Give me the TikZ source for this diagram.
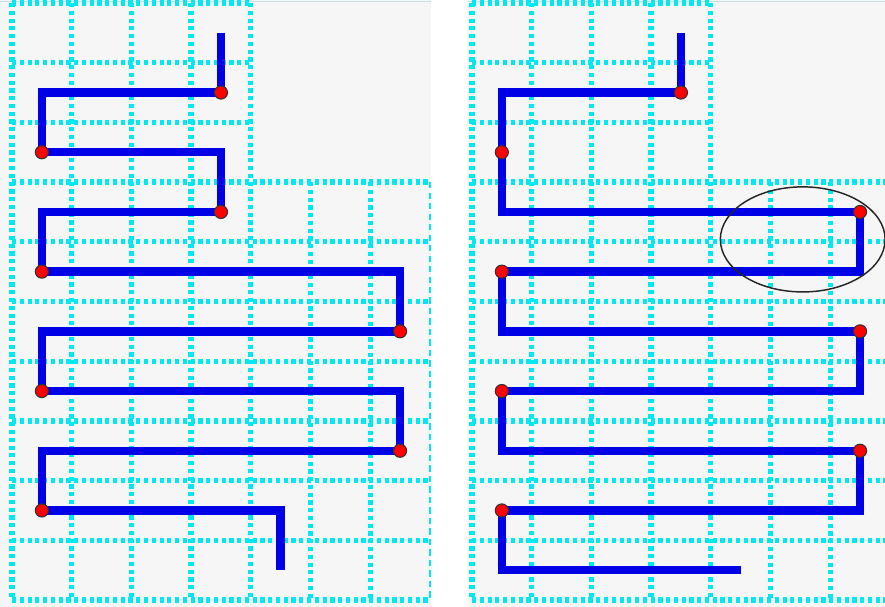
\documentclass[tikz,border=0pt]{standalone}
\usepackage{tikz}
\usetikzlibrary{positioning}
\definecolor{GridCyan}{RGB}{0,232,240}
\definecolor{PathBlue}{RGB}{0,0,230}
\definecolor{PanelGray}{RGB}{246,246,247}
\definecolor{EdgeBlue}{RGB}{200,222,230}

\begin{document}
\begin{tikzpicture}[x=1cm, y=-1cm,
    gridline/.style={GridCyan, line width=2.5pt, dash pattern=on 2pt off 1.7pt},
    edgeline/.style={GridCyan, line width=0.8pt, dash pattern=on 3pt off 2pt},
    snake/.style={PathBlue, line width=4pt, line join=miter},
    turn/.style={circle, draw=black!80, fill=red, line width=0.5pt, inner sep=0pt, minimum size=2.2mm}]
  \useasboundingbox (-0.201,-0.05) rectangle (14.623,10.117);
  % panels
  \fill[PanelGray] (-0.201,-0.05) rectangle (7.02,10.117);
  \fill[PanelGray] (7.64,-0.05) rectangle (14.623,10.117);
  \draw[EdgeBlue, line width=0.6pt] (-0.201,-0.02) -- (7.02,-0.02);
  \draw[EdgeBlue, line width=0.6pt] (7.64,-0.02) -- (14.623,-0.02);
  % left panel
  \begin{scope}
    \foreach \i in {0,...,4} \draw[gridline] (\i,0) -- (\i,10);
    \foreach \i in {5,6} \draw[gridline] (\i,3) -- (\i,10);
    \foreach \j in {0,1,2} \draw[gridline] (0,\j) -- (4,\j);
    \foreach \j in {3,...,10} \draw[gridline] (0,\j) -- (7,\j);
    \draw[edgeline] (7,3) -- (7,10);
    \draw[snake] (3.5,0.5) -- (3.5,1.5) -- (0.5,1.5) -- (0.5,2.5) -- (3.5,2.5) -- (3.5,3.5)
      -- (0.5,3.5) -- (0.5,4.5) -- (6.5,4.5) -- (6.5,5.5) -- (0.5,5.5) -- (0.5,6.5)
      -- (6.5,6.5) -- (6.5,7.5) -- (0.5,7.5) -- (0.5,8.5) -- (4.5,8.5) -- (4.5,9.5);
    \node[turn] (l1) at (3.5,1.5) {};
    \node[turn] (l2) at (0.5,2.5) {};
    \node[turn] (l3) at (3.5,3.5) {};
    \node[turn] (l4) at (0.5,4.5) {};
    \node[turn] (l5) at (6.5,5.5) {};
    \node[turn] (l6) at (0.5,6.5) {};
    \node[turn] (l7) at (6.5,7.5) {};
    \node[turn] (l8) at (0.5,8.5) {};
  \end{scope}
  % right panel
  \begin{scope}[xshift=7.705cm]
    \foreach \i in {0,...,4} \draw[gridline] (\i,0) -- (\i,10);
    \foreach \i in {5,6} \draw[gridline] (\i,3) -- (\i,10);
    \foreach \j in {0,1,2} \draw[gridline] (0,\j) -- (4,\j);
    \foreach \j in {3,...,10} \draw[gridline] (0,\j) -- (6.92,\j);
    \draw[snake] (3.5,0.5) -- (3.5,1.5) -- (0.5,1.5) -- (0.5,3.5) -- (6.5,3.5) -- (6.5,4.5)
      -- (0.5,4.5) -- (0.5,5.5) -- (6.5,5.5) -- (6.5,6.5) -- (0.5,6.5) -- (0.5,7.5)
      -- (6.5,7.5) -- (6.5,8.5) -- (0.5,8.5) -- (0.5,9.5) -- (4.5,9.5);
    \node[turn] (r1) at (3.5,1.5) {};
    \node[turn] (r2) at (0.5,2.5) {};
    \node[turn] (r3) at (6.5,3.5) {};
    \node[turn] (r4) at (0.5,4.5) {};
    \node[turn] (r5) at (6.5,5.5) {};
    \node[turn] (r6) at (0.5,6.5) {};
    \node[turn] (r7) at (6.5,7.5) {};
    \node[turn] (r8) at (0.5,8.5) {};
    \draw[black!85, line width=0.7pt] (5.54,3.96) ellipse [x radius=1.38, y radius=0.88];
  \end{scope}
\end{tikzpicture}
\end{document}
